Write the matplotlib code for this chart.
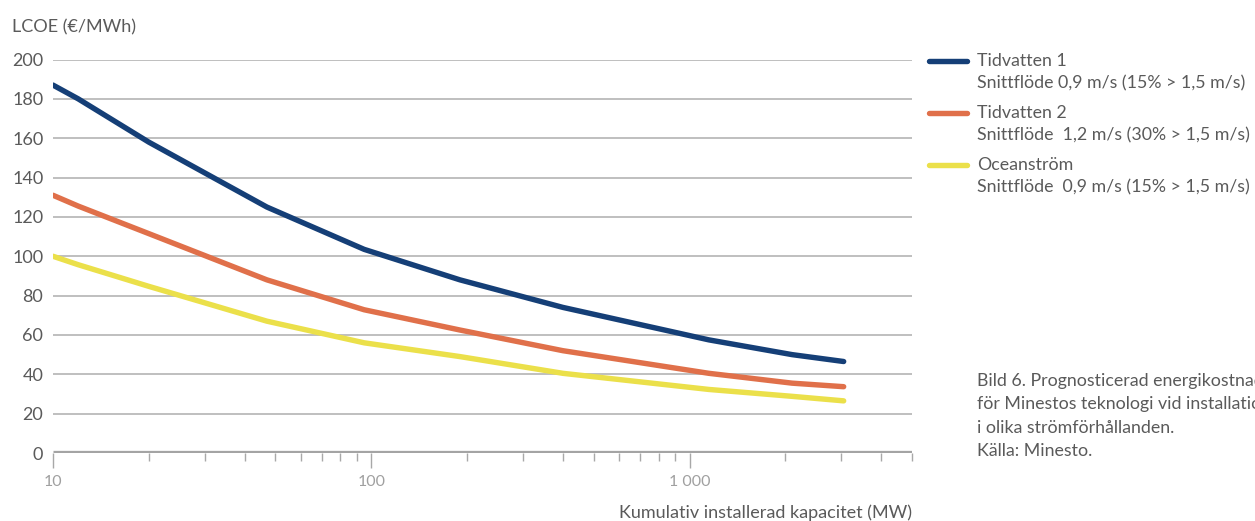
"""LCOE projection chart for Minesto technology (log capacity axis)."""

import matplotlib
matplotlib.use("Agg")
import matplotlib.pyplot as plt
from matplotlib.lines import Line2D
from matplotlib.ticker import FixedLocator, FixedFormatter, NullFormatter

plt.rcParams['font.family'] = ['Lato', 'DejaVu Sans']

# cumulative installed capacity (MW)
capacity = [10, 12, 20, 47, 95, 190, 400, 1150, 2100, 3050]

tidvatten_1 = [187, 180, 158, 125, 103.5, 88, 74, 57.5, 50, 46.5]
tidvatten_2 = [131, 125.5, 111.5, 88, 72.8, 62.5, 52, 40.5, 35.5, 33.7]
oceanstrom = [100, 95.7, 84.7, 67, 56, 49, 40.5, 32.3, 28.8, 26.5]

series_names = ["Tidvatten 1", "Tidvatten 2", "Oceanström"]
series_notes = [
    "Snittflöde 0,9 m/s (15% > 1,5 m/s)",
    "Snittflöde  1,2 m/s (30% > 1,5 m/s)",
    "Snittflöde  0,9 m/s (15% > 1,5 m/s)",
]
colors = ["#153f77", "#e0704a", "#ebe04a"]

y_ticks = [0, 20, 40, 60, 80, 100, 120, 140, 160, 180, 200]
x_major = [10, 100, 1000]
x_major_labels = ["10", "100", "1 000"]
x_minor = [20, 30, 40, 50, 60, 70, 80, 90,
           200, 300, 400, 500, 600, 700, 800, 900,
           2000, 3000, 4000, 5000]

# the caption runs past the right edge in the source page
caption = [
    "Bild 6. Prognosticerad energikostnad (LCOE)",
    "för Minestos teknologi vid installation",
    "i olika strömförhållanden.",
    "Källa: Minesto.",
]

text_grey = "#5a5a5a"
fs = 12.8

fig = plt.figure(figsize=(12.55, 5.21), dpi=100)
ax = fig.add_axes([53 / 1255, 1 - 453 / 521, (912 - 53) / 1255, (453 - 59.5) / 521])

for yv in y_ticks[1:]:
    ax.axhline(yv, color="#b4b4b4", lw=1.2, zorder=1)
ax.axhline(0, color="#a4a4a4", lw=3.8, zorder=2, solid_capstyle="butt")

for vals, c in zip([tidvatten_1, tidvatten_2, oceanstrom], colors):
    ax.plot(capacity, vals, color=c, lw=3.9, solid_capstyle="round",
            solid_joinstyle="round", zorder=3)

ax.set_xscale("log")
ax.set_xlim(10, 5000)
ax.set_ylim(0, 200)
ax.set_yticks(y_ticks)
ax.xaxis.set_major_locator(FixedLocator(x_major))
ax.xaxis.set_major_formatter(FixedFormatter(x_major_labels))
ax.xaxis.set_minor_locator(FixedLocator(x_minor))
ax.xaxis.set_minor_formatter(NullFormatter())

for s in ax.spines.values():
    s.set_visible(False)

ax.tick_params(axis="y", length=0, pad=7, labelsize=13, labelcolor=text_grey)
ax.tick_params(axis="x", which="major", length=11, width=1, color="#a8a8a8",
               pad=5, labelsize=11.5, labelcolor="#a0a0a0", direction="out")
ax.tick_params(axis="x", which="minor", length=6, width=1, color="#a8a8a8",
               direction="out")

fig.text(12 / 1255, 1 - 27 / 521, "LCOE (€/MWh)", ha="left", va="center",
         fontsize=13, color=text_grey)
fig.text(912 / 1255, 1 - 504 / 521, "Kumulativ installerad kapacitet (MW)",
         ha="right", va="top", fontsize=13, color=text_grey)

# legend drawn by hand to keep the two-line entries
for i, (name, note, c) in enumerate(zip(series_names, series_notes, colors)):
    y0 = 61 + 52 * i
    fig.add_artist(Line2D([929 / 1255, 967 / 1255], [1 - y0 / 521] * 2,
                          color=c, lw=3.9, solid_capstyle="round"))
    fig.text(977 / 1255, 1 - y0 / 521, name, ha="left", va="center",
             fontsize=fs, color=text_grey)
    fig.text(977 / 1255, 1 - (y0 + 22) / 521, note, ha="left", va="center",
             fontsize=fs, color=text_grey)

for i, line in enumerate(caption):
    fig.text(977 / 1255, 1 - (381 + 23.5 * i) / 521, line, ha="left",
             va="center", fontsize=fs, color=text_grey)

fig.savefig("out.png", dpi=100)
